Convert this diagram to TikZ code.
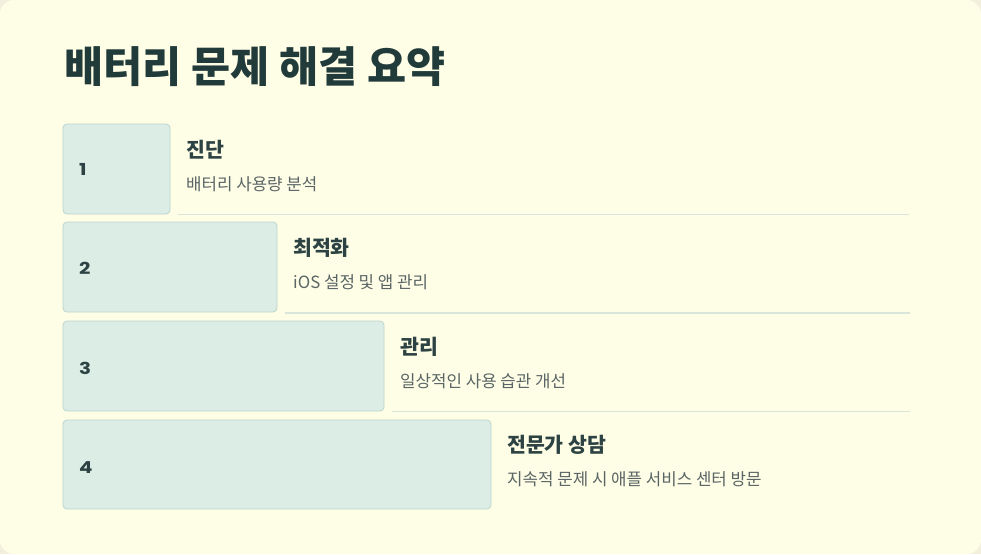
\documentclass[tikz,border=0pt]{standalone}
\usepackage{fontspec}
\usepackage{graphicx}
\setmainfont{Noto Sans CJK KR}
\newfontfamily\numfont{Poppins}
\begin{document}
\begin{tikzpicture}[x=1pt,y=-1pt,
  stepbox/.style={draw=boxline,fill=boxfill,rounded corners=4pt,line width=0.8pt},
  sepline/.style={draw=sepcol,line width=1.6pt},
  numtext/.style={anchor=west,text=darktext,font=\numfont\fontsize{16.5}{16.5}\selectfont\bfseries,inner sep=0pt},
  headtext/.style={anchor=west,text=darktext,font=\fontsize{20.5}{20.5}\selectfont\bfseries,inner sep=0pt},
  subtext/.style={anchor=west,text=graytext,font=\fontsize{16.8}{16.8}\selectfont,inner sep=0pt}
]
\definecolor{bgcol}{HTML}{FEFDE6}
\definecolor{outer}{HTML}{F2F0DC}
\definecolor{boxfill}{HTML}{DCEDE6}
\definecolor{boxline}{HTML}{BCD6CE}
\definecolor{sepcol}{HTML}{D9E4DB}
\definecolor{darktext}{HTML}{2D4242}
\definecolor{titlecol}{HTML}{213A3A}
\definecolor{graytext}{HTML}{5A6565}
\useasboundingbox (0,0) rectangle (981,554);
\fill[outer] (0,0) rectangle (981,554);
\fill[bgcol,rounded corners=14pt] (0,0) rectangle (981,554);

\node[anchor=base west,inner sep=0pt,text=titlecol,font=\fontsize{42.5}{42.5}\selectfont\bfseries] (title) at (64,82) {배터리 문제 해결 요약};

% row 1
\draw[stepbox] (63,124) rectangle (170,214);
\node[numtext] (n1) at (79,169.5) {\scalebox{1.2}[1]{1}};
\node[headtext] (h1) at (186,150) {진단};
\node[subtext] (s1) at (186,184) {배터리 사용량 분석};
\coordinate (l1a) at (178,214.5); \coordinate (l1b) at (909,214.5);
\draw[sepline] (l1a) -- (l1b);

% row 2
\draw[stepbox] (63,222) rectangle (277,312);
\node[numtext] (n2) at (79,268.5) {\scalebox{1.2}[1]{2}};
\node[headtext] (h2) at (293,248) {최적화};
\node[subtext] (s2) at (293,282) {iOS 설정 및 앱 관리};
\coordinate (l2a) at (285,313); \coordinate (l2b) at (910,313);
\draw[sepline] (l2a) -- (l2b);

% row 3
\draw[stepbox] (63,321) rectangle (384,411);
\node[numtext] (n3) at (79,368.5) {\scalebox{1.2}[1]{3}};
\node[headtext] (h3) at (400,347) {관리};
\node[subtext] (s3) at (400,381) {일상적인 사용 습관 개선};
\coordinate (l3a) at (392,411.5); \coordinate (l3b) at (910,411.5);
\draw[sepline] (l3a) -- (l3b);

% row 4
\draw[stepbox] (63,420) rectangle (491,509);
\node[numtext] (n4) at (79,467.5) {\scalebox{1.2}[1]{4}};
\node[headtext] (h4) at (507,445) {전문가 상담};
\node[subtext] (s4) at (507,479) {지속적 문제 시 애플 서비스 센터 방문};
\end{tikzpicture}
\end{document}
